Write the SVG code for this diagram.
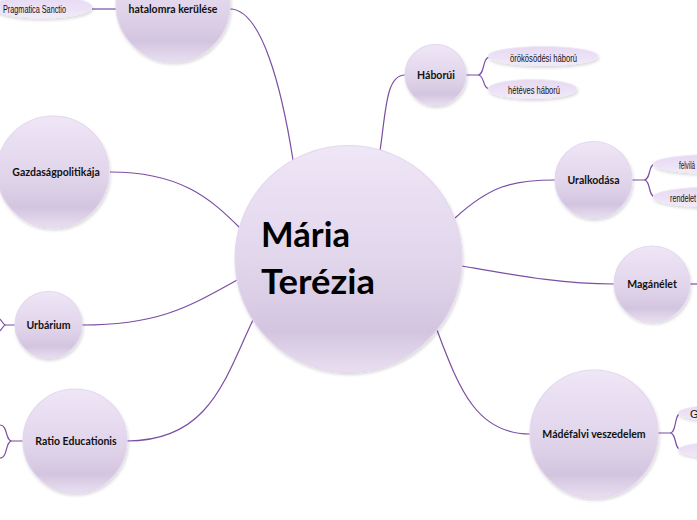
<svg xmlns="http://www.w3.org/2000/svg" width="697" height="520" viewBox="0 0 697 520">
<defs>
<linearGradient id="cg" x1="0" y1="0" x2="0" y2="1">
<stop offset="0" stop-color="#efe6f7"/>
<stop offset="0.55" stop-color="#e0d4ea"/>
<stop offset="0.82" stop-color="#d3c5df"/>
<stop offset="1" stop-color="#e9dff1"/>
</linearGradient>
<linearGradient id="eg" x1="0" y1="0" x2="0" y2="1">
<stop offset="0" stop-color="#e6d9f1"/>
<stop offset="0.6" stop-color="#ece2f6"/>
<stop offset="1" stop-color="#f3ecf9"/>
</linearGradient>
<filter id="sh" x="-20%" y="-20%" width="140%" height="150%">
<feDropShadow dx="1" dy="2" stdDeviation="1.5" flood-color="#000" flood-opacity="0.15"/>
</filter>
</defs>
<style>
.c{fill:url(#cg);stroke:#e4d8ef;stroke-width:1.2;filter:url(#sh)}
.e{fill:url(#eg);stroke:#efe6f7;stroke-width:1;filter:url(#sh)}
.t{font-family:Lato,"Noto Sans",sans-serif;font-weight:700;font-size:10.5px;fill:#111;text-anchor:middle}
.s{font-family:"Liberation Sans",sans-serif;font-size:11px;fill:#111}
.big{font-family:Lato,"Noto Sans",sans-serif;font-weight:700;font-size:34px;fill:#000}
.l{fill:none;stroke:#7b4ea3;stroke-width:1.2}
</style>
<rect width="697" height="520" fill="#fff"/>
<g id="connectors">
<path class="l" d="M230,9 C262,9 282,90 293,160"/>
<path class="l" d="M117,9 L92,9"/>
<path class="l" d="M380,151 C386,110 386,75 405,75"/>
<path class="l" d="M466,75 L478,75 C485,75 482,57 490,57 M478,75 C485,75 482,89 490,89"/>
<path class="l" d="M455,218 C490,186 512,180 555,180"/>
<path class="l" d="M632,180 L644,180 C651,180 648,164 655,164 M644,180 C651,180 648,197 655,197"/>
<path class="l" d="M462,266 C520,276 562,284 614,284"/>
<path class="l" d="M690,284 L697,284"/>
<path class="l" d="M437,330 C460,392 478,434 530,434"/>
<path class="l" d="M658,433 L670,433 C677,433 674,413 681,413 M670,433 C677,433 674,450 681,450"/>
<path class="l" d="M240,228 C210,198 180,172 110,172"/>
<path class="l" d="M237,280 C190,306 160,325 82,325"/>
<path class="l" d="M15,325 L6,325 C2,325 2,318 -3,318 M6,325 C2,325 2,332 -3,332"/>
<path class="l" d="M253,320 C225,378 210,441 127,441"/>
<path class="l" d="M23,441 L12,441 C5,441 8,425 0,425 M12,441 C5,441 8,458 0,458"/>
</g>
<g id="hatalomra">
<circle class="c" cx="173" cy="5" r="57"/>
<text class="t" x="173" y="12.5">hatalomra kerülése</text>
</g>
<g id="pragmatica">
<ellipse class="e" cx="42" cy="7" rx="50" ry="11"/>
<text class="s" x="3" y="12.5" textLength="63" lengthAdjust="spacingAndGlyphs">Pragmatica Sanctio</text>
</g>
<g id="haborui">
<circle class="c" cx="435.5" cy="75" r="30.5"/>
<text class="t" x="436" y="78.5">Háborúi</text>
</g>
<g id="orokosodesi">
<ellipse class="e" cx="543" cy="56" rx="55" ry="9.5"/>
<text class="s" x="510" y="61.5" textLength="67" lengthAdjust="spacingAndGlyphs">örökösödési háború</text>
</g>
<g id="heteves">
<ellipse class="e" cx="532.5" cy="89" rx="44.5" ry="9.5"/>
<text class="s" x="508" y="93.5" textLength="52" lengthAdjust="spacingAndGlyphs">hétéves háború</text>
</g>
<g id="uralkodasa">
<circle class="c" cx="593.5" cy="180" r="38.5"/>
<text class="t" x="593.5" y="183.5">Uralkodása</text>
</g>
<g id="felvilagosult">
<ellipse class="e" cx="715" cy="164" rx="62" ry="9.5"/>
<text class="s" x="679" y="168.5" textLength="16" lengthAdjust="spacingAndGlyphs">felvilá</text>
</g>
<g id="rendeletek">
<ellipse class="e" cx="715" cy="197" rx="62" ry="10"/>
<text class="s" x="670" y="201.5" textLength="26" lengthAdjust="spacingAndGlyphs">rendelet</text>
</g>
<g id="maganelet">
<circle class="c" cx="652" cy="284" r="38"/>
<text class="t" x="652" y="287.5">Magánélet</text>
</g>
<g id="madefalvi">
<circle class="c" cx="594" cy="434" r="64"/>
<text class="t" x="594" y="437.5">Mádéfalvi veszedelem</text>
</g>
<g id="madefalvi-child1">
<ellipse class="e" cx="740" cy="413" rx="62" ry="9"/>
<text class="s" x="690" y="418">G</text>
</g>
<g id="madefalvi-child2">
<ellipse class="e" cx="740" cy="450" rx="62" ry="9"/>
</g>
<g id="gazdasag">
<circle class="c" cx="53" cy="172" r="56"/>
<text class="t" x="56" y="175.5">Gazdaságpolitikája</text>
</g>
<g id="urbarium">
<circle class="c" cx="48.5" cy="325" r="33.5"/>
<text class="t" x="48.5" y="328.5">Urbárium</text>
</g>
<g id="ratio">
<circle class="c" cx="75" cy="441" r="52"/>
<text class="t" x="76" y="444.5">Ratio Educationis</text>
</g>
<g id="maria">
<circle class="c" cx="348.5" cy="259" r="113.5"/>
<text class="big" x="261" y="247" textLength="89" lengthAdjust="spacingAndGlyphs">Mária</text>
<text class="big" x="261" y="294" textLength="114" lengthAdjust="spacingAndGlyphs">Terézia</text>
</g>
</svg>
